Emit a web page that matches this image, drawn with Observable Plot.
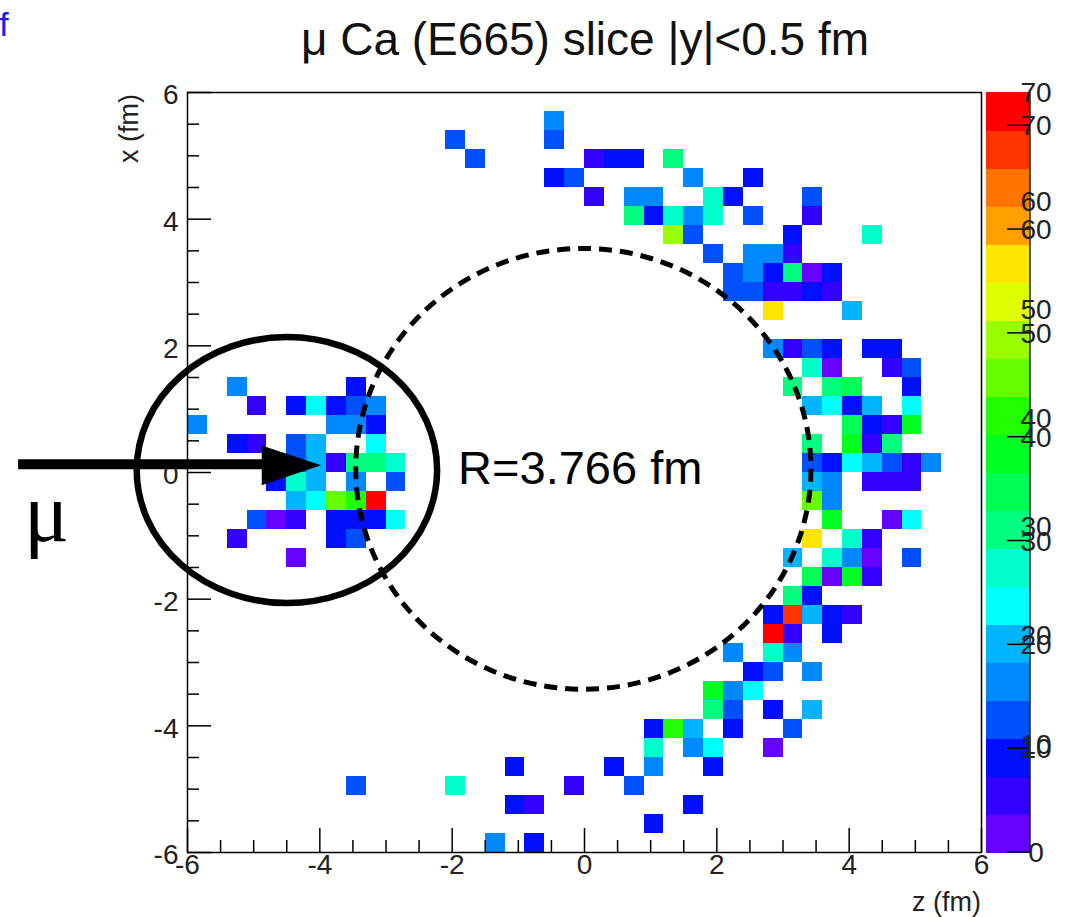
<!DOCTYPE html>
<html><head><meta charset="utf-8">
<script src="https://cdn.jsdelivr.net/npm/d3@7"></script>
<script src="https://cdn.jsdelivr.net/npm/@observablehq/plot@0.6"></script>
<style>
html,body{margin:0;padding:0;background:#fff;}
#chart{width:1075px;height:917px;overflow:hidden;}
#chart svg{display:block;}
</style></head><body><div id="chart"></div>
<script>
// ---- data: [z bin low edge (fm), x bin low edge (fm), content] ----
const cells = [
  [-0.6,5.4,16],
  [-2.1,5.1,13],[-0.6,5.1,13],
  [-1.8,4.8,13],[0,4.8,5],[0.3,4.8,9],[0.6,4.8,9],[1.2,4.8,31],
  [-0.6,4.5,9],[-0.3,4.5,13],[1.5,4.5,16],[2.4,4.5,9],
  [0,4.2,5],[0.6,4.2,16],[0.9,4.2,16],[1.8,4.2,27],[2.1,4.2,9],[3.3,4.2,13],
  [0.6,3.9,31],[0.9,3.9,9],[1.2,3.9,27],[1.5,3.9,16],[1.8,3.9,27],[2.4,3.9,13],[3.3,3.9,5],
  [1.2,3.6,49],[1.5,3.6,13],[3.0,3.6,9],[4.2,3.6,27],
  [1.8,3.3,13],[2.4,3.3,16],[2.7,3.3,16],[3.0,3.3,5],
  [2.1,3.0,13],[2.4,3.0,16],[2.7,3.0,9],[3.0,3.0,31],[3.3,3.0,2],[3.6,3.0,9],
  [2.1,2.7,13],[2.4,2.7,13],[2.7,2.7,5],[3.0,2.7,5],[3.3,2.7,9],[3.6,2.7,5],
  [2.7,2.4,57],[3.9,2.4,20],
  [2.7,1.8,16],[3.0,1.8,5],[3.3,1.8,13],[3.6,1.8,9],[4.2,1.8,9],[4.5,1.8,9],
  [3.3,1.5,27],[3.6,1.5,2],[4.5,1.5,5],[4.8,1.5,13],
  [-5.4,1.2,16],[-3.6,1.2,9],[3.0,1.2,31],[3.6,1.2,31],[3.9,1.2,35],[4.8,1.2,9],
  [-5.1,0.9,5],[-4.5,0.9,9],[-4.2,0.9,24],[-3.9,0.9,9],[-3.6,0.9,13],[-3.3,0.9,16],
  [3.3,0.9,20],[3.6,0.9,24],[3.9,0.9,9],[4.2,0.9,20],[4.8,0.9,24],
  [-6.0,0.6,16],[-3.9,0.6,16],[-3.6,0.6,16],[-3.3,0.6,9],[3.9,0.6,35],[4.2,0.6,9],[4.5,0.6,5],[4.8,0.6,38],
  [-5.4,0.3,9],[-5.1,0.3,5],[-4.5,0.3,13],[-4.2,0.3,20],[-3.3,0.3,24],[3.3,0.3,31],[3.9,0.3,38],[4.2,0.3,5],[4.5,0.3,31],
  [-4.5,0,13],[-4.2,0,20],[-3.9,0,5],[-3.6,0,31],[-3.3,0,31],[-3.0,0,27],
  [3.3,0,13],[3.6,0,9],[3.9,0,24],[4.2,0,20],[4.5,0,13],[4.8,0,5],[5.1,0,16],
  [-4.8,-0.3,9],[-4.5,-0.3,27],[-4.2,-0.3,20],[-3.6,-0.3,16],[-3.0,-0.3,13],
  [3.3,-0.3,20],[3.6,-0.3,16],[4.2,-0.3,5],[4.5,-0.3,5],[4.8,-0.3,5],
  [-4.5,-0.6,20],[-4.2,-0.6,24],[-3.9,-0.6,46],[-3.6,-0.6,42],[-3.3,-0.6,72],[3.3,-0.6,46],[3.6,-0.6,16],
  [-5.1,-0.9,13],[-4.8,-0.9,2],[-4.5,-0.9,5],[-3.9,-0.9,9],[-3.6,-0.9,9],[-3.3,-0.9,9],[-3.0,-0.9,24],
  [3.6,-0.9,38],[4.5,-0.9,2],[4.8,-0.9,24],
  [-5.4,-1.2,5],[-3.9,-1.2,9],[-3.6,-1.2,13],[3.3,-1.2,57],[3.9,-1.2,27],[4.2,-1.2,5],
  [-4.5,-1.5,2],[3.0,-1.5,20],[3.6,-1.5,27],[3.9,-1.5,16],[4.2,-1.5,2],[4.8,-1.5,13],
  [3.3,-1.8,35],[3.6,-1.8,2],[3.9,-1.8,38],[4.2,-1.8,5],
  [3.0,-2.1,31],[3.3,-2.1,9],
  [2.7,-2.4,9],[3.0,-2.4,68],[3.3,-2.4,20],[3.6,-2.4,9],[3.9,-2.4,5],
  [2.7,-2.7,72],[3.0,-2.7,5],[3.6,-2.7,9],
  [2.1,-3.0,16],[2.7,-3.0,27],[3.0,-3.0,16],
  [2.4,-3.3,9],[2.7,-3.3,13],[3.3,-3.3,16],
  [1.8,-3.6,38],[2.1,-3.6,16],[2.4,-3.6,24],
  [1.8,-3.9,31],[2.1,-3.9,13],[2.7,-3.9,9],[3.3,-3.9,20],
  [0.9,-4.2,9],[1.2,-4.2,42],[1.5,-4.2,20],[2.1,-4.2,9],[3.0,-4.2,13],
  [0.9,-4.5,27],[1.5,-4.5,16],[1.8,-4.5,24],[2.7,-4.5,2],
  [-1.2,-4.8,9],[0.3,-4.8,9],[0.9,-4.8,16],[1.8,-4.8,9],
  [-3.6,-5.1,13],[-2.1,-5.1,27],[-0.3,-5.1,5],[0.6,-5.1,13],
  [-1.2,-5.4,9],[-0.9,-5.4,5],[1.5,-5.4,9],
  [0.9,-5.7,9],
  [-1.5,-6.0,16],[-0.9,-6.0,9]
];
const binWidth = 0.3;

// palette (20 contour levels, violet -> red)
const paletteColors = ["#6600ff","#3300ff","#0010ff","#0050ff","#0088ff","#00b4ff","#00ffff","#00ffcc","#00ff80","#00ff55",
                       "#00ff22","#22ff00","#66ff00","#99ff00","#ddff00","#ffe600","#ffa000","#ff7300","#ff3300","#ff0000"];
const paletteEdges = [3.66,7.32,10.98,14.64,18.3,21.96,25.62,29.28,32.94,36.6,40.26,43.92,47.58,51.24,54.9,58.56,62.22,65.88,69.54];
const paletteMax = 73.2;
const paletteTicks = [0,10,20,30,40,50,60,70];

const zMajorTicks = [-6,-4,-2,0,2,4,6];
const zMinorTicks = [-5.5,-5,-4.5,-3.5,-3,-2.5,-1.5,-1,-0.5,0.5,1,1.5,2.5,3,3.5,4.5,5,5.5];
const xMajorTicks = [-6,-4,-2,0,2,4,6];
const xMinorTicks = [-5.5,-5,-4.5,-3.5,-3,-2.5,-1.5,-1,-0.5,0.5,1,1.5,2.5,3,3.5,4.5,5,5.5];

const titleText = "\u03bc Ca (E665) slice |y|<0.5 fm";
const xAxisTitle = "z (fm)";
const yAxisTitle = "x (fm)";
const radiusLabel = "R=3.766 fm";
const probeLabel = "\u03bc";
const cornerLabel = "f";

// annotation geometry (data units, fm)
const ringCenter = [-4.49, 0.03], ringRadii = [2.27, 2.10];
const nucleusCenter = [-0.01, 0.05], nucleusRadii = [3.44, 3.48];
const arrowShaft = [{z1: -8.56, z2: -4.80, x: 0.13}];
const arrowHead = [{z: -4.87, lo: -0.21, hi: 0.42}, {z: -3.975, lo: 0.107, hi: 0.107}];

const W = 1075, H = 917, mL = 187, mR = 94, mT = 92, mB = 65;
const FW = W - mL - mR, FH = H - mT - mB;
const font = "'Liberation Sans', Arial, Helvetica, sans-serif";

const chart = Plot.plot({
  width: W, height: H,
  marginLeft: mL, marginRight: mR, marginTop: mT, marginBottom: mB,
  x: {domain: [-6, 6], axis: null},
  y: {domain: [-6, 6], axis: null},
  color: {type: "threshold", domain: paletteEdges, range: paletteColors},
  style: {fontFamily: font, background: "white", overflow: "visible", color: "black"},
  marks: [
    Plot.rect(cells, {x1: d => d[0], x2: d => d[0] + binWidth, y1: d => d[1], y2: d => d[1] + binWidth,
                      fill: d => d[2], shapeRendering: "crispEdges"}),
    Plot.frame({stroke: "black", strokeWidth: 1.5}),
    Plot.tickX(zMajorTicks, {x: d => d, insetTop: FH - 24, stroke: "black", strokeWidth: 1.5}),
    Plot.tickX(zMinorTicks, {x: d => d, insetTop: FH - 12, stroke: "black", strokeWidth: 1.5}),
    Plot.tickY(xMajorTicks, {y: d => d, insetRight: FW - 24, stroke: "black", strokeWidth: 1.5}),
    Plot.tickY(xMinorTicks, {y: d => d, insetRight: FW - 12, stroke: "black", strokeWidth: 1.5}),
    Plot.text(zMajorTicks, {x: d => d, text: d => String(d), frameAnchor: "bottom", dy: 21, fontSize: 28, fill: "#222"}),
    Plot.text(xMajorTicks, {y: d => d, text: d => String(d), frameAnchor: "left", textAnchor: "end", dx: -9, dy: 3, fontSize: 28, fill: "#222"}),
    Plot.link(arrowShaft, {x1: "z1", x2: "z2", y1: "x", y2: "x", stroke: "black", strokeWidth: 10}),
    Plot.areaY(arrowHead, {x: "z", y1: "lo", y2: "hi", fill: "black"}),
    Plot.text([radiusLabel], {x: -1.91, y: 0.05, text: d => d, textAnchor: "start", fontSize: 47, fill: "black"}),
    Plot.text([probeLabel], {x: -8.13, y: -0.66, text: d => d, fontSize: 84, fontFamily: "'Liberation Serif', 'DejaVu Serif', serif", fill: "black"})
  ]
});
document.getElementById("chart").appendChild(chart);

const svg = d3.select(chart);
const sxo = chart.scale("x"), syo = chart.scale("y");
const fx = v => sxo.apply ? sxo.apply(v) : d3.scaleLinear(sxo.domain, sxo.range)(v);
const fy = v => syo.apply ? syo.apply(v) : d3.scaleLinear(syo.domain, syo.range)(v);

// nucleus (dashed) and probe region (solid) outlines
svg.append("ellipse")
  .attr("cx", fx(nucleusCenter[0])).attr("cy", fy(nucleusCenter[1]))
  .attr("rx", fx(nucleusCenter[0] + nucleusRadii[0]) - fx(nucleusCenter[0]))
  .attr("ry", fy(nucleusCenter[1]) - fy(nucleusCenter[1] + nucleusRadii[1]))
  .attr("fill", "none").attr("stroke", "black").attr("stroke-width", 5).attr("stroke-dasharray", "13 8");
svg.append("ellipse")
  .attr("cx", fx(ringCenter[0])).attr("cy", fy(ringCenter[1]))
  .attr("rx", fx(ringCenter[0] + ringRadii[0]) - fx(ringCenter[0]))
  .attr("ry", fy(ringCenter[1]) - fy(ringCenter[1] + ringRadii[1]))
  .attr("fill", "none").attr("stroke", "black").attr("stroke-width", 6.5);

// colour bar
const cbTop = fy(6), cbBot = fy(-6), cbX0 = 986, cbX1 = 1030;
const cb = d3.scaleLinear([0, paletteMax], [cbBot, cbTop]);
const cbA = d3.scaleLinear([0, 70], [cbBot, cbTop]);
const lo = [0, ...paletteEdges], hi = [...paletteEdges, paletteMax];
paletteColors.forEach((c, k) => {
  svg.append("rect").attr("x", cbX0).attr("width", cbX1 - cbX0)
    .attr("y", cb(hi[k])).attr("height", cb(lo[k]) - cb(hi[k]) + 0.5).attr("fill", c)
    .attr("shape-rendering", "crispEdges");
});
svg.append("line").attr("x1", cbX1).attr("x2", cbX1).attr("y1", cbTop).attr("y2", cbBot).attr("stroke", "#222").attr("stroke-width", 1.5);
paletteTicks.forEach(v => {
  svg.append("line").attr("x1", cbX1 - 23).attr("x2", cbX1).attr("y1", cb(v)).attr("y2", cb(v)).attr("stroke", "black").attr("stroke-width", 1.5);
  svg.append("text").attr("x", 1036).attr("y", cb(v)).attr("dy", "0.36em").attr("font-size", 28).attr("fill", "#222").text(String(v));
  if (v > 0) svg.append("text").attr("x", 1036).attr("y", cbA(v)).attr("dy", "0.36em").attr("font-size", 28).attr("fill", "#222").text(String(v));
});

// titles
svg.append("text").attr("x", 585).attr("y", 55).attr("text-anchor", "middle").attr("font-size", 46).attr("fill", "#111").text(titleText);
svg.append("text").attr("x", mL + FW).attr("y", 911).attr("text-anchor", "end").attr("font-size", 27).attr("fill", "#222").text(xAxisTitle);
svg.append("text").attr("transform", `translate(138,${mT + 2}) rotate(-90)`).attr("text-anchor", "end").attr("font-size", 27).attr("fill", "#222").text(yAxisTitle);
svg.append("text").attr("x", 4).attr("y", 36).attr("font-size", 34).attr("fill", "#1a1aff").text(cornerLabel);
</script></body></html>
